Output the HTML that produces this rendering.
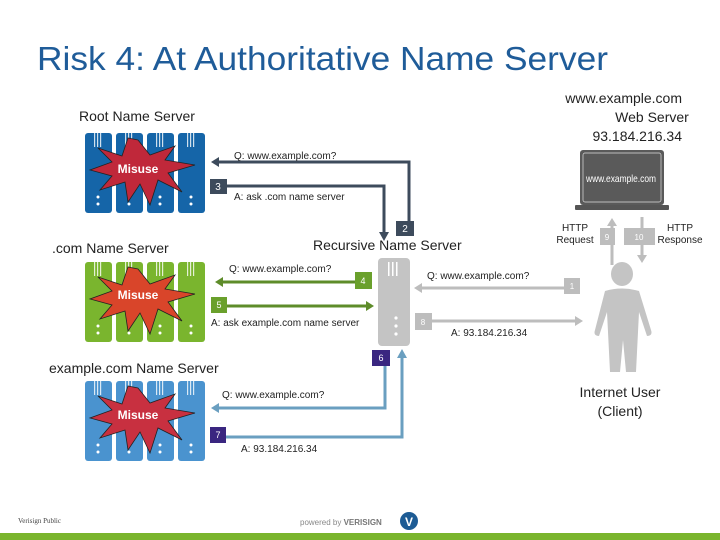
<!DOCTYPE html>
<html><head><meta charset="utf-8"><style>
html,body{margin:0;padding:0;background:#fff;}
svg{display:block;font-family:"Liberation Sans",sans-serif;}
</style></head><body>
<svg width="720" height="540" viewBox="0 0 720 540" xmlns="http://www.w3.org/2000/svg">
<defs>
<g id="rack">
 <rect x="0" y="0" width="27" height="80" rx="3"/>
 <rect x="31" y="0" width="27" height="80" rx="3"/>
 <rect x="62" y="0" width="27" height="80" rx="3"/>
 <rect x="93" y="0" width="27" height="80" rx="3"/>
</defs>
<text x="37" y="70" font-size="33" fill="#1f5c99" textLength="571" lengthAdjust="spacingAndGlyphs">Risk 4:  At Authoritative Name Server</text>

<g font-size="14" fill="#222">
<text x="79" y="121">Root Name Server</text>
<text x="52" y="253">.com Name Server</text>
<text x="313" y="250">Recursive Name Server</text>
<text x="49" y="373">example.com Name Server</text>
<text x="682" y="103" text-anchor="end">www.example.com</text>
<text x="652" y="122" text-anchor="middle">Web Server</text>
<text x="682" y="141" text-anchor="end">93.184.216.34</text>
<text x="620" y="397" text-anchor="middle">Internet User</text>
<text x="620" y="416" text-anchor="middle">(Client)</text>
</g>

<g fill="#1565a8"><use href="#rack" x="85" y="133"/></g>
<g fill="#7ab52e"><use href="#rack" x="85" y="262"/></g>
<g fill="#4a93cf"><use href="#rack" x="85" y="381"/></g>
<g fill="#fff">
 <g id="dots"><circle cx="98" cy="197" r="1.5"/><circle cx="98" cy="204" r="1.5"/><circle cx="129" cy="197" r="1.5"/><circle cx="129" cy="204" r="1.5"/><circle cx="160" cy="197" r="1.5"/><circle cx="160" cy="204" r="1.5"/><circle cx="191" cy="197" r="1.5"/><circle cx="191" cy="204" r="1.5"/></g>
 <use href="#dots" y="129"/><use href="#dots" y="248"/>
</g>
<g fill="#fff" opacity="0.8">
 <g id="stripes">
  <rect x="94" y="133" width="1.2" height="14"/><rect x="97" y="133" width="1.2" height="14"/><rect x="100" y="133" width="1.2" height="14"/>
  <rect x="125" y="133" width="1.2" height="14"/><rect x="128" y="133" width="1.2" height="14"/><rect x="131" y="133" width="1.2" height="14"/>
  <rect x="156" y="133" width="1.2" height="14"/><rect x="159" y="133" width="1.2" height="14"/><rect x="162" y="133" width="1.2" height="14"/>
  <rect x="187" y="133" width="1.2" height="14"/><rect x="190" y="133" width="1.2" height="14"/><rect x="193" y="133" width="1.2" height="14"/>
 </g>
 <use href="#stripes" y="129"/><use href="#stripes" y="248"/>
</g>
<polygon points="138,140 150,155 175,146 165,160 195,165 168,173 182,192 158,180 150,205 140,184 128,202 125,182 100,190 112,176 90,170 112,162 98,148 122,156 128,138" fill="#c0283a" stroke="#222" stroke-width="0.8"/>
<text x="138" y="173" font-size="12" font-weight="bold" fill="#fff" text-anchor="middle">Misuse</text>
<polygon points="138,269 150,284 175,275 165,289 195,294 168,302 182,321 158,309 150,334 140,313 128,331 125,311 100,319 112,305 90,299 112,291 98,277 122,285 128,267" fill="#d9452a" stroke="#222" stroke-width="0.8"/>
<text x="138" y="299" font-size="12" font-weight="bold" fill="#fff" text-anchor="middle">Misuse</text>
<polygon points="138,388 150,403 175,394 165,408 195,413 168,421 182,440 158,428 150,453 140,432 128,450 125,430 100,438 112,424 90,418 112,410 98,396 122,404 128,386" fill="#c83040" stroke="#222" stroke-width="0.8"/>
<text x="138" y="419" font-size="12" font-weight="bold" fill="#fff" text-anchor="middle">Misuse</text>

<rect x="378" y="258" width="32" height="88" rx="4" fill="#c4c4c4"/>
<g fill="#fff"><circle cx="396" cy="318" r="1.6"/><circle cx="396" cy="326" r="1.6"/><circle cx="396" cy="334" r="1.6"/>
<rect x="388" y="262" width="1.5" height="14"/><rect x="392" y="262" width="1.5" height="14"/><rect x="396" y="262" width="1.5" height="14"/></g>

<g stroke="#3d4b5c" stroke-width="3" fill="none">
<polyline points="216,162 409,162 409,224"/>
<polyline points="226,186 384,186 384,234"/>
</g>
<g fill="#3d4b5c">
<polygon points="211,162 219,157 219,167"/>
<polygon points="384,241 379,232 389,232"/>
<rect x="396" y="221" width="18" height="15"/>
<rect x="210" y="179" width="17" height="15"/>
</g>
<g font-size="10" fill="#fff"><text x="405" y="232" text-anchor="middle">2</text><text x="218" y="190" text-anchor="middle">3</text></g>
<g font-size="10" fill="#222">
<text x="234" y="159">Q: www.example.com?</text>
<text x="234" y="200">A: ask .com name server</text>
</g>

<g stroke="#5e8c2a" stroke-width="3" fill="none">
<line x1="220" y1="282" x2="358" y2="282"/>
<line x1="226" y1="306" x2="368" y2="306"/>
</g>
<g fill="#5e8c2a">
<polygon points="215,282 223,277 223,287"/>
<polygon points="374,306 366,301 366,311"/>
</g>
<g fill="#6aa02c"><rect x="355" y="272" width="17" height="17"/><rect x="211" y="297" width="16" height="16"/></g>
<g font-size="9" fill="#fff"><text x="363" y="284" text-anchor="middle">4</text><text x="219" y="308" text-anchor="middle">5</text></g>
<g font-size="10" fill="#222">
<text x="229" y="272">Q: www.example.com?</text>
<text x="211" y="326">A: ask example.com name server</text>
</g>

<g stroke="#6a9fc0" stroke-width="3" fill="none">
<polyline points="216,408 385,408 385,366"/>
<polyline points="226,437 402,437 402,356"/>
</g>
<g fill="#6a9fc0"><polygon points="211,408 219,403 219,413"/><polygon points="402,349 397,358 407,358"/></g>
<g fill="#3a2680"><rect x="372" y="350" width="18" height="16"/><rect x="210" y="427" width="16" height="16"/></g>
<g font-size="9" fill="#fff"><text x="381" y="361" text-anchor="middle">6</text><text x="218" y="438" text-anchor="middle">7</text></g>
<g font-size="10" fill="#222">
<text x="222" y="398">Q: www.example.com?</text>
<text x="241" y="452">A: 93.184.216.34</text>
</g>

<g stroke="#bdbdbd" stroke-width="3" fill="none">
<line x1="420" y1="288" x2="566" y2="288"/>
<line x1="432" y1="321" x2="576" y2="321"/>
<line x1="612" y1="265" x2="612" y2="224"/>
<line x1="642" y1="217" x2="642" y2="258"/>
</g>
<g fill="#bdbdbd">
<polygon points="414,288 422,283 422,293"/>
<polygon points="583,321 575,316 575,326"/>
<polygon points="612,218 607,226 617,226"/>
<polygon points="642,263 637,255 647,255"/>
<rect x="564" y="278" width="16" height="16"/><rect x="415" y="313" width="17" height="17"/>
<rect x="600" y="228" width="15" height="17"/><rect x="624" y="228" width="31" height="17"/>
</g>
<g font-size="8" fill="#fff"><text x="572" y="289" text-anchor="middle">1</text><text x="423" y="325" text-anchor="middle">8</text><text x="607" y="240" text-anchor="middle">9</text><text x="639" y="240" text-anchor="middle">10</text></g>
<g font-size="10" fill="#222">
<text x="427" y="279">Q: www.example.com?</text>
<text x="451" y="336">A: 93.184.216.34</text>
<text x="575" y="231" text-anchor="middle">HTTP</text>
<text x="575" y="243" text-anchor="middle">Request</text>
<text x="680" y="231" text-anchor="middle">HTTP</text>
<text x="680" y="243" text-anchor="middle">Response</text>
</g>

<rect x="580" y="150" width="84" height="55" rx="3" fill="#5a5a5a"/>
<rect x="583" y="153" width="78" height="49" rx="2" fill="none" stroke="#ddd" stroke-width="0.7"/>
<rect x="575" y="205" width="94" height="5" rx="1" fill="#555"/>
<text x="621" y="182" font-size="10.5" fill="#fff" text-anchor="middle" textLength="70" lengthAdjust="spacingAndGlyphs">www.example.com</text>

<g fill="#c4c4c4">
<ellipse cx="622" cy="274" rx="11" ry="12"/>
<path d="M605,291 Q622,286 639,291 L651,330 Q653,336 647,336 L639,312 L636,372 L626,372 L623,340 L620,372 L610,372 L607,312 L599,336 Q593,336 595,330 Z"/>
</g>

<text x="18" y="523" font-size="7" fill="#444" font-family="Liberation Serif,serif">Verisign Public</text>
<text x="300" y="525" font-size="8" fill="#888">powered by <tspan font-weight="bold" fill="#777">VERISIGN</tspan></text>
<circle cx="409" cy="521" r="9" fill="#1d5b94"/>
<text x="409" y="526" font-size="12" font-weight="bold" fill="#fff" text-anchor="middle">V</text>
<rect x="0" y="533" width="720" height="7" fill="#7ab52e"/>
</svg>
</body></html>
